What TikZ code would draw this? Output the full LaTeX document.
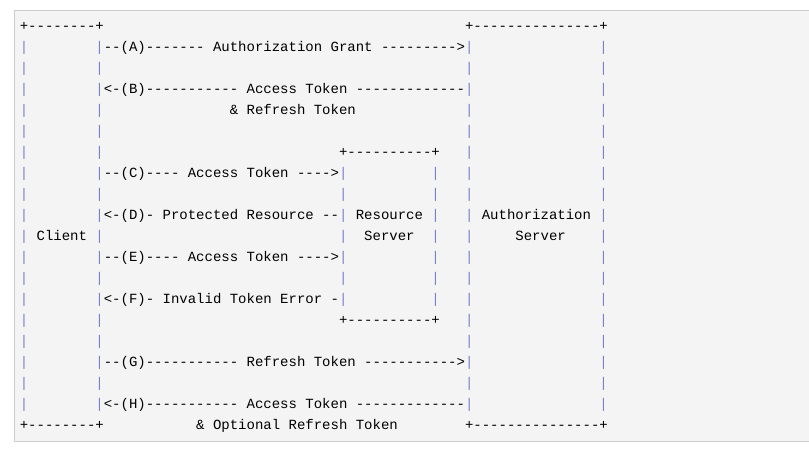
\documentclass[tikz,border=0pt]{standalone}
\usepackage{fontspec}
\setmonofont{Liberation Mono}

\definecolor{codebg}{HTML}{F4F4F4}
\definecolor{codeframe}{HTML}{CCCCCC}
\definecolor{pipeblue}{RGB}{120,132,200}

\newcommand*{\xmin}{-2.357}
\newcommand*{\xmax}{93.95}
\newcommand*{\ymin}{-1.443}
\newcommand*{\ymax}{19.986}

\begin{document}
\begin{tikzpicture}
[
	x=6.3pt, y=-15.75pt,
	ascii/.style={anchor=base west,inner sep=0pt,outer sep=0pt,font=\ttfamily\fontsize{10.5pt}{15.75pt}\selectfont},
	pipe/.style={ascii,text=pipeblue}
]

	\useasboundingbox (\xmin,\ymin) rectangle (\xmax,\ymax);

	% code block
	\fill[codebg] (-0.655,-0.952) rectangle (\xmax,19.571);
	\draw[codeframe,line width=0.75pt] (\xmax,-0.952) -- (-0.655,-0.952) -- (-0.655,19.571) -- (\xmax,19.571);

	% box corners
	\node[ascii] (clienttop) at (0,0) {+--------+};
	\node[ascii] (clientbot) at (0,19) {+--------+};
	\node[ascii] (authtop) at (53,0) {+---------------+};
	\node[ascii] (authbot) at (53,19) {+---------------+};
	\node[ascii] (restop) at (38,6) {+----------+};
	\node[ascii] (resbot) at (38,14) {+----------+};

	% box sides
	\foreach \r in {1,...,18} {
		\node[pipe] (cl\r) at (0,\r) {|};
		\node[pipe] (cr\r) at (9,\r) {|};
		\node[pipe] (al\r) at (53,\r) {|};
		\node[pipe] (ar\r) at (69,\r) {|};
	}
	\foreach \r in {7,...,13} {
		\node[pipe] (rl\r) at (38,\r) {|};
		\node[pipe] (rr\r) at (49,\r) {|};
	}

	% box names
	\node[ascii] (client) at (2,10) {Client};
	\node[ascii] (resource) at (40,9) {Resource};
	\node[ascii] (resserver) at (41,10) {Server};
	\node[ascii] (auth) at (55,9) {Authorization};
	\node[ascii] (authserver) at (59,10) {Server};

	% messages
	\node[ascii] (msgA) at (10,1) {--(A)------- Authorization Grant --------->};
	\node[ascii] (msgB) at (10,3) {<-(B)----------- Access Token -------------};
	\node[ascii] (msgBb) at (25,4) {\& Refresh Token};
	\node[ascii] (msgC) at (10,7) {--(C)---- Access Token ---->};
	\node[ascii] (msgD) at (10,9) {<-(D)- Protected Resource --};
	\node[ascii] (msgE) at (10,11) {--(E)---- Access Token ---->};
	\node[ascii] (msgF) at (10,13) {<-(F)- Invalid Token Error -};
	\node[ascii] (msgG) at (10,16) {--(G)----------- Refresh Token ----------->};
	\node[ascii] (msgH) at (10,18) {<-(H)----------- Access Token -------------};
	\node[ascii] (msgHb) at (21,19) {\& Optional Refresh Token};

\end{tikzpicture}
\end{document}
